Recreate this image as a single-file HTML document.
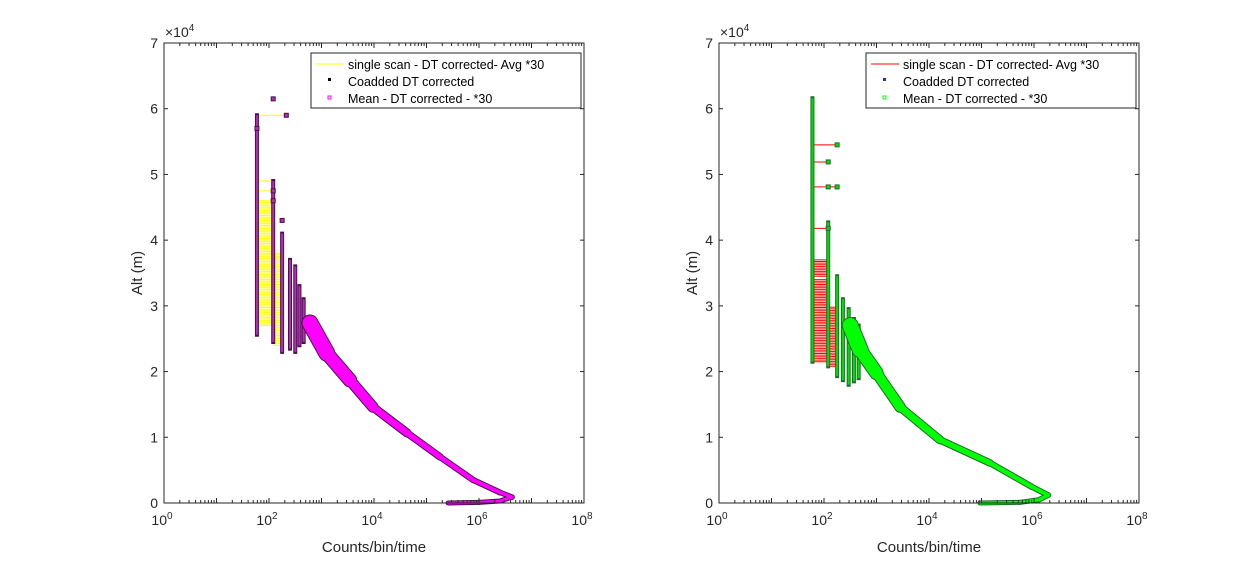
<!DOCTYPE html>
<html><head><meta charset="utf-8"><style>
body{margin:0;background:#fff;}
svg{display:block;font-family:"Liberation Sans",sans-serif;}
</style></head><body>
<svg id="chart" width="1260" height="566" viewBox="0 0 1260 566" xmlns="http://www.w3.org/2000/svg">
<rect width="1260" height="566" fill="#fff"/>
</svg>
<script>
// ---- data ----
const xTickExps = [0,2,4,6,8];
const yTickVals = [0,1,2,3,4,5,6,7];
// left panel
const leftCurveAlt = [0,100,300,900,1600,3500,7000,10650,14600,18700,22800,27400];
const leftCurveLog = [5.41,6.0,6.4,6.63,6.4,5.89,5.26,4.63,3.98,3.54,3.1,2.78];
const leftCurveWidth = [3,3,3,3,4,4,5,6,8,11,14,16];
const leftColLog = [1.77,2.08,2.25,2.4,2.5,2.58,2.66];
const leftColBottom = [25600,24500,23000,23500,23000,24000,24500];
const leftColTop = [59000,49000,41000,37000,36000,33000,31000];
const leftOutLog = [2.08,2.33,1.77,2.08,2.08,2.25];
const leftOutAlt = [61500,59000,57000,47500,46000,43000];
const leftSpanAltLo = [27000,24000,59000,49000,47500];
const leftSpanAltHi = [46000,38000,59000,49000,47500];
const leftSpanFrom = [1.77,2.08,1.77,1.77,1.77];
const leftSpanTo = [2.08,2.25,2.33,2.08,2.08];
// right panel
const rightCurveAlt = [0,100,500,1200,2500,6100,9600,14600,19800,23300,27000];
const rightCurveLog = [4.97,5.73,6.1,6.27,5.95,5.16,4.21,3.45,3.0,2.69,2.5];
const rightCurveWidth = [3,3,3,4,4,5,6,8,11,14,16];
const rightColLog = [1.78,2.08,2.25,2.36,2.47,2.57,2.66];
const rightColBottom = [21500,20800,19300,18700,18000,18500,19000];
const rightColTop = [61600,42700,34500,31000,29500,28000,27000];
const rightOutLog = [2.25,2.08,2.08,2.25,2.08];
const rightOutAlt = [54500,51900,48100,48100,41800];
const rightSpanAltLo = [21500,34500,20800,54500,51900,48100,41800];
const rightSpanAltHi = [34200,37000,30000,54500,51900,48100,41800];
const rightSpanFrom = [1.78,1.78,2.08,1.78,1.78,1.78,1.78];
const rightSpanTo = [2.08,2.08,2.25,2.25,2.08,2.25,2.08];

const NS="http://www.w3.org/2000/svg";
const svg=document.getElementById('chart');
function mk(tag,attrs,parent){const e=document.createElementNS(NS,tag);for(const k in attrs)e.setAttribute(k,attrs[k]);(parent||svg).appendChild(e);return e;}

function panel(p){
  const X0=p.x0,X1=p.x0+420,Y0=43,Y1=503;
  const xs=l=>X0+(l/8)*(X1-X0);
  const ys=a=>Y1-(a/70000)*(Y1-Y0);
  const g=mk('g',{});
  
  
  for(let i=0;i<p.spanLo.length;i++){
    const lo=p.spanLo[i],hi=p.spanHi[i];
    const step=(hi-lo)>0?250:1;
    for(let a=lo;a<=hi;a+=step){
      const l=mk('line',{x1:xs(p.spanFrom[i]),x2:xs(p.spanTo[i]),y1:ys(a),y2:ys(a),stroke:p.lineColor,'stroke-width':1},g);
      
      
    }
  }
  for(let i=0;i<p.colLog.length;i++){
    const x=xs(p.colLog[i]);
    const o=mk('line',{x1:x,x2:x,y1:ys(p.colBottom[i])+2,y2:ys(p.colTop[i])-2,stroke:p.edge,'stroke-width':4},g);
    
    
    const c=mk('line',{x1:x,x2:x,y1:ys(p.colBottom[i]),y2:ys(p.colTop[i]),stroke:p.colColor,'stroke-width':2},g);
    
    
  }
  for(let i=0;i<p.outLog.length;i++){
    const d=mk('rect',{x:xs(p.outLog[i])-2,y:ys(p.outAlt[i])-2,width:4,height:4,fill:p.colColor,stroke:p.edge,'stroke-width':1},g);
    
    
  }
  for(let i=0;i<p.cAlt.length-1;i++){
    const w=(p.cW[i]+p.cW[i+1])/2;
    const s=mk('line',{x1:xs(p.cLog[i]),y1:ys(p.cAlt[i]),x2:xs(p.cLog[i+1]),y2:ys(p.cAlt[i+1]),stroke:p.edge,'stroke-width':w+2,'stroke-linecap':'round'},g);
    
    
  }
  for(let i=0;i<p.cAlt.length-1;i++){
    const w=(p.cW[i]+p.cW[i+1])/2;
    const s=mk('line',{x1:xs(p.cLog[i]),y1:ys(p.cAlt[i]),x2:xs(p.cLog[i+1]),y2:ys(p.cAlt[i+1]),stroke:p.bandColor,'stroke-width':w,'stroke-linecap':'round'},g);
    
    
  }
  const box=mk('rect',{x:X0,y:Y0,width:X1-X0,height:Y1-Y0,fill:'none',stroke:'#262626','stroke-width':1},g);
  
  
  for(let d=0;d<8;d++){for(let m=1;m<10;m++){
    const x=xs(d+Math.log10(m)); const len=m===1?5:3;
    mk('line',{x1:x,x2:x,y1:Y1,y2:Y1-len,stroke:'#262626'},g);
    mk('line',{x1:x,x2:x,y1:Y0,y2:Y0+len,stroke:'#262626'},g);
  }}
  xTickExps.forEach(e=>{
    const t=mk('text',{x:xs(e)-2,y:Y1+22,'font-size':14,fill:'#262626','text-anchor':'middle'},g);
    t.innerHTML='10<tspan dy="-6" font-size="10">'+e+'</tspan>';
    
    
  });
  yTickVals.forEach(v=>{
    const y=ys(v*10000);
    mk('line',{x1:X0,x2:X0+4,y1:y,y2:y,stroke:'#262626'},g);
    mk('line',{x1:X1,x2:X1-4,y1:y,y2:y,stroke:'#262626'},g);
    const t=mk('text',{x:X0-6,y:y+5,'font-size':14,fill:'#262626','text-anchor':'end'},g);
    t.textContent=v;
    
    
  });
  const ex=mk('text',{x:X0+1,y:Y0-6,'font-size':14,fill:'#262626'},g);
  ex.innerHTML='×10<tspan dy="-6" font-size="10">4</tspan>';
  
  
  const xl=mk('text',{x:(X0+X1)/2,y:Y1+49,'font-size':15,fill:'#262626','text-anchor':'middle'},g);
  xl.textContent='Counts/bin/time';
  
  
  const yl=mk('text',{x:0,y:0,'font-size':15,fill:'#262626','text-anchor':'middle',transform:`translate(${X0-22},${(Y0+Y1)/2}) rotate(-90)`},g);
  yl.textContent='Alt (m)';
  
  
  const lx=X0+147,ly=53;
  const lg=mk('g',{},g);
  
  
  mk('rect',{x:lx,y:ly,width:270,height:55,fill:'#fff',stroke:'#262626'},lg);
  mk('line',{x1:lx+5,x2:lx+33,y1:ly+11,y2:ly+11,stroke:p.lineColor},lg);
  mk('rect',{x:lx+17,y:ly+25,width:3,height:3,fill:p.legMark2},lg);
  mk('rect',{x:lx+17,y:ly+43,width:3,height:3,fill:'none',stroke:p.bandColor,'stroke-width':1},lg);
  p.labels.forEach((s,i)=>{
    const t=mk('text',{x:lx+37,y:ly+16+i*17,'font-size':12.5,fill:'#000'},lg);
    t.textContent=s;
    
    
  });
}
panel({name:'left-panel',x0:164,cAlt:leftCurveAlt,cLog:leftCurveLog,cW:leftCurveWidth,colLog:leftColLog,colBottom:leftColBottom,colTop:leftColTop,outLog:leftOutLog,outAlt:leftOutAlt,spanLo:leftSpanAltLo,spanHi:leftSpanAltHi,spanFrom:leftSpanFrom,spanTo:leftSpanTo,lineColor:'#ffff00',bandColor:'#ff00ff',colColor:'#b030b0',edge:'#4a1050',legMark2:'#000',
  labels:['single scan - DT corrected- Avg *30','Coadded DT corrected','Mean - DT corrected - *30']});
panel({name:'right-panel',x0:719,cAlt:rightCurveAlt,cLog:rightCurveLog,cW:rightCurveWidth,colLog:rightColLog,colBottom:rightColBottom,colTop:rightColTop,outLog:rightOutLog,outAlt:rightOutAlt,spanLo:rightSpanAltLo,spanHi:rightSpanAltHi,spanFrom:rightSpanFrom,spanTo:rightSpanTo,lineColor:'#ff0000',bandColor:'#00ff00',colColor:'#00e000',edge:'#1f6a2a',legMark2:'#2030c0',
  labels:['single scan - DT corrected- Avg *30','Coadded DT corrected','Mean - DT corrected - *30']});
</script>
</body></html>
